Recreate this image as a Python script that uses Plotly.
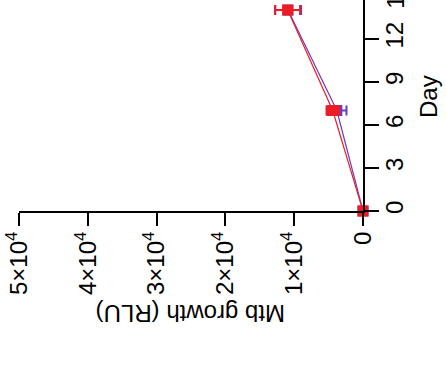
import plotly.graph_objects as go

# Mtb growth over time (two conditions), axes rotated: Day runs upward, RLU runs leftward
days = [0, 7, 14]
growth_red = [0, 4400, 10950]
err_red = [0, 900, 1800]
growth_purple = [0, 3800, 10900]
err_purple = [0, 1400, 1900]

growth_ticks = [0, 10000, 20000, 30000, 40000, 50000]
growth_labels = ["0", "1×10<sup>4</sup>", "2×10<sup>4</sup>", "3×10<sup>4</sup>",
                 "4×10<sup>4</sup>", "5×10<sup>4</sup>"]
day_ticks = [0, 3, 6, 9, 12, 15]
day_top = 14.7

RED = "#ED1C24"
PURPLE = "#6A3DBA"
FONT = "Arial"

fig = go.Figure()
for ys, errs, col in [(growth_purple, err_purple, PURPLE), (growth_red, err_red, RED)]:
    fig.add_trace(go.Scatter(
        x=ys, y=days, mode="lines+markers",
        line=dict(color=col, width=1.2),
        marker=dict(symbol="square", size=11, color=col),
        error_x=dict(type="data", array=errs, color=col, thickness=2, width=5),
        cliponaxis=False, showlegend=False,
    ))

fig.update_layout(
    width=446, height=371,
    margin=dict(l=19, r=83, t=0, b=160),
    paper_bgcolor="white", plot_bgcolor="white",
    font=dict(family=FONT, size=24, color="black"),
    xaxis=dict(
        range=[50000, 0], tickvals=growth_ticks, ticktext=growth_labels,
        tickangle=-90, ticks="outside", ticklen=13, tickwidth=2, tickcolor="black",
        showline=True, linewidth=2, linecolor="black",
        showgrid=False, zeroline=False, automargin=False,
        ticklabelstandoff=-4, tickfont=dict(family=FONT, size=24),
    ),
    yaxis=dict(
        range=[0, day_top], tickvals=day_ticks, side="right",
        tickangle=-90, ticks="outside", ticklen=14, tickwidth=2, tickcolor="black",
        showline=True, linewidth=2, linecolor="black",
        showgrid=False, zeroline=False, automargin=False,
        ticklabelstandoff=-5, tickfont=dict(family=FONT, size=24),
    ),
)

# tick labels that fall just past the visible end of the Day axis
for d in day_ticks:
    if d > day_top:
        fig.add_annotation(x=(396 - 19) / 344, xref="paper", y=d / day_top, yref="paper",
                           text=str(d), textangle=-90, showarrow=False,
                           xanchor="center", yanchor="middle",
                           font=dict(family=FONT, size=24))

fig.add_annotation(x=0.5, xref="paper", y=(211 - 314) / 211, yref="paper",
                   text="Mtb growth (RLU)", textangle=180, showarrow=False,
                   xanchor="center", yanchor="middle", font=dict(family=FONT, size=24))
fig.add_annotation(x=(428 - 19) / 344, xref="paper", y=0.545, yref="paper",
                   text="Day", textangle=-90, showarrow=False,
                   xanchor="center", yanchor="middle", font=dict(family=FONT, size=24))

fig.write_html("out.html")
